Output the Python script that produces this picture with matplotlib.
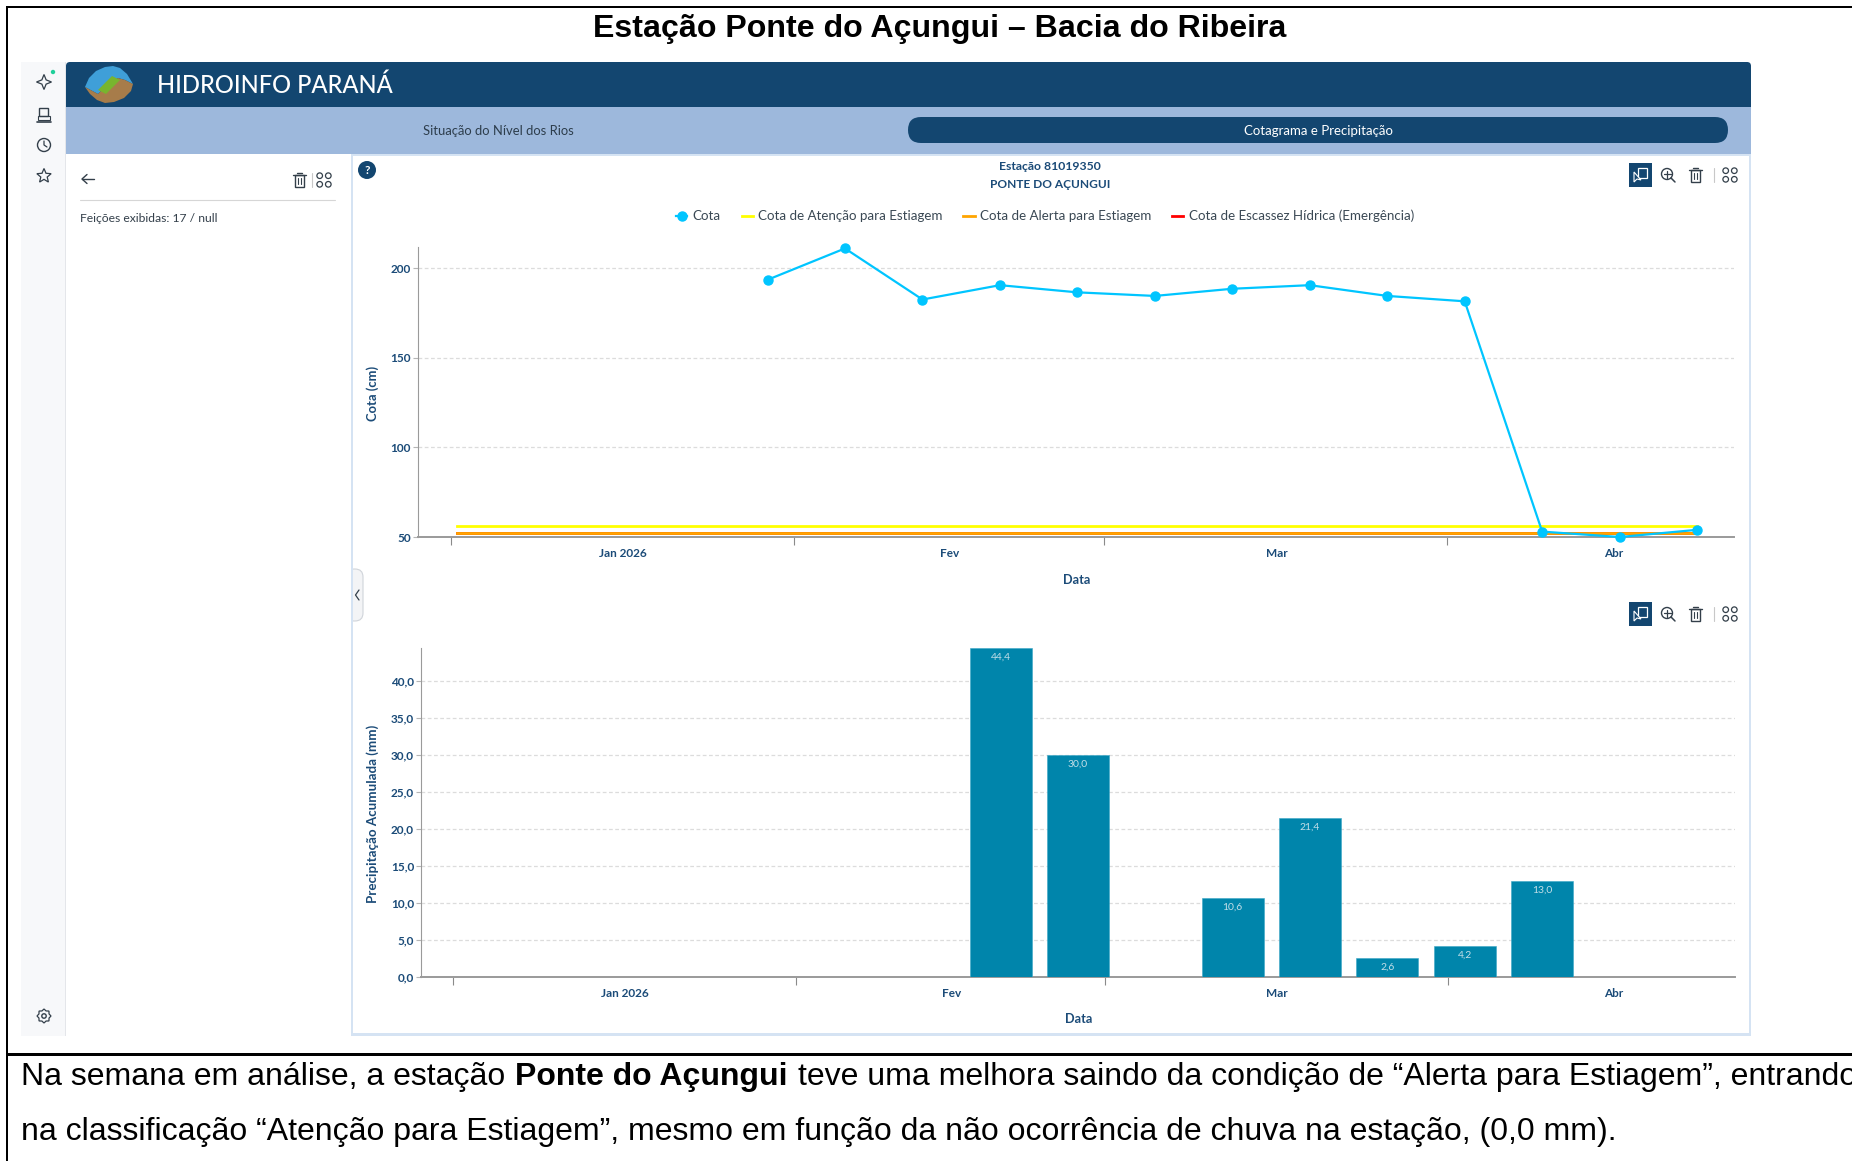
import matplotlib
matplotlib.use('Agg')
import matplotlib.pyplot as plt
import matplotlib.dates as mdates
from matplotlib.patches import Rectangle, Circle, FancyBboxPatch, Polygon
import numpy as np

# dados
cota_datas = ['2026-01-29T14', '2026-02-05T14', '2026-02-12T14', '2026-02-19T14', '2026-02-26T14',
              '2026-03-05T14', '2026-03-12T14', '2026-03-19T14', '2026-03-26T14', '2026-04-02T14',
              '2026-04-09T14', '2026-04-16T14', '2026-04-23T14']
cota = [193.5, 211, 182.5, 190.5, 186.5, 184.5, 188.5, 190.5, 184.5, 181.5, 53, 50, 54]
limite_datas = ['2026-01-01T12', '2026-04-23T14']
atencao = [56, 56]
alerta = [52, 52]
escassez = [52, 52]

chuva_datas = ['2026-02-19T13', '2026-02-26T13', '2026-03-12T13', '2026-03-19T13',
               '2026-03-26T13', '2026-04-02T13', '2026-04-09T13']
chuva = [44.4, 30.0, 10.6, 21.4, 2.6, 4.2, 13.0]

meses_ticks = ['2026-01-01', '2026-02-01', '2026-03-01', '2026-04-01']
meses_pos = ['2026-01-16T12', '2026-02-15T02', '2026-03-16T14', '2026-04-16T00']
meses_nomes = ['Jan 2026', 'Fev', 'Mar', 'Abr']

cota_ticks = [50, 100, 150, 200]
chuva_ticks = [0, 5, 10, 15, 20, 25, 30, 35, 40]

AZUL = '#134670'
TEXTO = '#1b4b78'
CINZA = '#333f4a'
plt.rcParams['font.family'] = ['Lato', 'DejaVu Sans']

fig = plt.figure(figsize=(18.52, 11.61), dpi=100)
W, H = 1852, 1161

# camada de fundo em pixels
ui = fig.add_axes([0, 0, 1, 1], zorder=0)
ui.set_xlim(0, W)
ui.set_ylim(H, 0)
ui.axis('off')


def rect(x0, y0, x1, y1, cor, **kw):
    ui.add_patch(Rectangle((x0, y0), x1 - x0, y1 - y0, facecolor=cor, edgecolor='none', **kw))


def linha(xs, ys, cor=CINZA, lw=1.0):
    ui.plot(xs, ys, color=cor, lw=lw, solid_capstyle='round')


def circulo(x, y, r, fc='none', ec=CINZA, lw=1.0):
    ui.add_patch(Circle((x, y), r, facecolor=fc, edgecolor=ec, lw=lw))


def lixeira(x, y, cor=CINZA):
    ui.add_patch(Rectangle((x - 4.5, y - 5), 9, 12, facecolor='none', edgecolor=cor, lw=1.0))
    linha([x - 6.5, x + 6.5], [y - 5, y - 5], cor, 1.0)
    linha([x - 2.5, x + 2.5], [y - 7.5, y - 7.5], cor, 1.0)
    linha([x - 1.5, x - 1.5], [y - 2, y + 4], cor, 0.8)
    linha([x + 1.5, x + 1.5], [y - 2, y + 4], cor, 0.8)


def grade(x, y):
    for dx in (-4.3, 4.3):
        for dy in (-4.3, 4.3):
            circulo(x + dx, y + dy, 2.8, lw=0.9)


def estrela(x, y, r, pontas=5, miolo=0.45):
    ang = np.pi / 2 + np.arange(2 * pontas) * np.pi / pontas
    raio = np.array([r, r * miolo] * pontas)
    pts = np.c_[x + raio * np.cos(ang), y - raio * np.sin(ang)]
    ui.add_patch(Polygon(pts, closed=True, facecolor='none', edgecolor=CINZA, lw=0.9))


def barra_ferramentas(y):
    rect(1629, y - 12, 1652, y + 12, AZUL)
    ui.add_patch(Rectangle((1638, y - 7), 9, 10, facecolor='none', edgecolor='white', lw=0.9))
    ui.add_patch(Polygon([(1634, y - 3), (1634, y + 7), (1637, y + 4), (1641, y + 5)], facecolor=AZUL, edgecolor='white', lw=0.8))
    circulo(1667, y - 1, 5.5, lw=1.0)
    linha([1663.5, 1670.5], [y - 1, y - 1], CINZA, 0.9)
    linha([1667, 1667], [y - 4.5, y + 2.5], CINZA, 0.9)
    linha([1671, 1675], [y + 3, y + 7], CINZA, 1.1)
    lixeira(1695, y)
    linha([1714, 1714], [y - 7, y + 7], '#c8c8c8', 0.8)
    grade(1730, y)


# moldura da tabela
rect(5.5, 6, W, 8, 'black')
rect(5.5, 6, 7.5, H, 'black')
rect(5.5, 1053, W, 1056, 'black')

# barra lateral, cabecalho e abas
rect(21, 62, 65, 1036, '#f7f8fa')
rect(65, 62, 66, 1036, '#e4e6ea')
ui.add_patch(FancyBboxPatch((66, 62), 1685, 45, boxstyle='round,pad=0,rounding_size=4', facecolor=AZUL, edgecolor='none'))
rect(66, 100, 80, 107, AZUL)
rect(1740, 100, 1751, 107, AZUL)
rect(66, 107, 1751, 154, '#9db8dc')
ui.add_patch(FancyBboxPatch((908, 117), 820, 26, boxstyle='round,pad=0,rounding_size=13', facecolor=AZUL, edgecolor='none'))
rect(351, 154, 1751, 1036, '#d5e3f3')
rect(353, 156, 1749, 1033, 'white')
rect(66, 154, 350, 1036, 'white')

# logotipo
ui.add_patch(Polygon([(85, 87), (89, 78), (96, 71), (105, 67), (113, 66), (120, 68), (127, 74), (133, 84), (125, 80),
                      (118, 78), (108, 84), (98, 94)], facecolor='#3f9fd8', edgecolor='none'))
ui.add_patch(Polygon([(85, 87), (98, 94), (108, 84), (118, 78), (125, 80), (133, 84), (131, 91), (124, 98), (114, 102),
                      (105, 103), (97, 100), (90, 94)], facecolor='#a77c4a', edgecolor='none'))
ui.add_patch(Polygon([(98, 90), (112, 76), (120, 80), (106, 94)], facecolor='#78b52e', edgecolor='none'))
ui.text(157, 85, 'HIDROINFO PARANÁ', color='white', fontsize=17, fontweight='medium', va='center', ha='left')
ui.text(498, 131, 'Situação do Nível dos Rios', color='#2d3d4c', fontsize=9.4, va='center', ha='center')
ui.text(1318, 131, 'Cotagrama e Precipitação', color='white', fontsize=9.5, va='center', ha='center')

# icones da barra lateral
estrela(44, 82, 7.5, 4, 0.4)
circulo(53, 72, 2.2, fc='#1fcf9a', ec='none')
ui.add_patch(Rectangle((39, 108), 9, 8, facecolor='none', edgecolor=CINZA, lw=1.0))
ui.add_patch(Rectangle((38, 116), 12, 3.5, facecolor='none', edgecolor=CINZA, lw=0.8))
linha([37, 51], [122, 122], CINZA, 1.2)
circulo(44, 145, 6.5)
linha([44, 44, 47], [141, 145, 147], CINZA, 0.9)
estrela(44, 176, 7.5)
estrela(44, 1016, 7, 8, 0.78)
circulo(44, 1016, 2.2)

# painel esquerdo
linha([82, 94], [179, 179], CINZA, 1.0)
linha([87, 82, 87], [174.5, 179, 183.5], CINZA, 1.0)
lixeira(299, 180)
linha([312, 312], [173, 187], '#c8c8c8', 0.8)
grade(324, 180)
linha([80, 335], [200, 200], '#d6d6d6', 0.8)
ui.text(80, 218, 'Feições exibidas: 17 / null', color=CINZA, fontsize=8.7, va='center', ha='left')

# cabecalho dos graficos
circulo(367, 170, 9, fc=AZUL, ec='none')
ui.text(367, 170, '?', color='white', fontsize=8.5, fontweight='bold', va='center', ha='center')
ui.text(1050, 167, 'Estação 81019350', color=TEXTO, fontsize=8.8, fontweight='bold', va='center', ha='center')
ui.text(1050, 184, 'PONTE DO AÇUNGUI', color=TEXTO, fontsize=8.6, fontweight='bold', va='center', ha='center')
barra_ferramentas(175)
barra_ferramentas(614)

# alca de recolher
ui.add_patch(FancyBboxPatch((346, 569), 17, 52, boxstyle='round,pad=0,rounding_size=8', facecolor='#f3f4f6', edgecolor='#d0d4da', lw=0.8))
rect(344, 565, 351, 625, 'white')
rect(351, 565, 353, 625, '#d5e3f3')
linha([359, 355.5, 359], [590, 595, 600], CINZA, 0.9)


def eixos(x0, y0, x1, y1):
    ax = fig.add_axes([x0 / W, 1 - y1 / H, (x1 - x0) / W, (y1 - y0) / H], zorder=2)
    ax.patch.set_alpha(0)
    for lado in ('top', 'right'):
        ax.spines[lado].set_visible(False)
    ax.spines['left'].set_color('#9a9a9a')
    ax.spines['bottom'].set_color('#9a9a9a')
    ax.spines['bottom'].set_linewidth(1.4)
    ax.grid(axis='y', color='#dcdcdc', ls=(0, (3, 2)), lw=0.9)
    ax.set_axisbelow(True)
    ax.xaxis_date()
    ax.set_xticks(mdates.date2num(np.array(meses_ticks, dtype='datetime64[h]')))
    ax.set_xticklabels([])
    ax.set_xticks(mdates.date2num(np.array(meses_pos, dtype='datetime64[h]')), labels=meses_nomes, minor=True)
    ax.tick_params(axis='x', which='major', length=6, color='#8a8a8a', width=0.8)
    ax.tick_params(axis='x', which='minor', length=0, pad=8, labelsize=8.5, labelcolor=TEXTO)
    ax.tick_params(axis='y', length=3.5, color='#b5b5b5', width=0.8, labelsize=8.5, labelcolor=TEXTO, pad=1.5)
    for t in ax.get_xminorticklabels() + ax.get_yticklabels():
        t.set_fontweight('bold')
    return ax


def datas(lista):
    return mdates.date2num(np.array(lista, dtype='datetime64[h]'))


# cotagrama
ax1 = eixos(418, 247, 1734, 537)
l1, = ax1.plot(datas(cota_datas), cota, color='#00c5ff', lw=1.6, marker='o', ms=6.5, clip_on=False, zorder=5, label='Cota')
l4, = ax1.plot(datas(limite_datas), escassez, color='#ff0000', lw=2, zorder=3, label='Cota de Escassez Hídrica (Emergência)')
l2, = ax1.plot(datas(limite_datas), atencao, color='#ffff00', lw=2, zorder=4, label='Cota de Atenção para Estiagem')
l3, = ax1.plot(datas(limite_datas), alerta, color='#ffa500', lw=2, zorder=4, label='Cota de Alerta para Estiagem')
ax1.set_xlim(mdates.date2num(np.datetime64('2025-12-29T00')), mdates.date2num(np.datetime64('2026-04-26T22')))
ax1.set_ylim(50, 211.8)
ax1.set_yticks(cota_ticks)
for t in ax1.get_yticklabels():
    t.set_fontweight('bold')

# precipitacao
ax2 = eixos(421, 648, 1735, 977)
barras = ax2.bar(datas(chuva_datas), chuva, width=5.6, color='#0085ab', edgecolor='#3aa7c6', lw=0.4, zorder=3)
for b, v in zip(barras, chuva):
    ax2.annotate(f'{v:.1f}'.replace('.', ','), (b.get_x() + b.get_width() / 2, v), xytext=(0, -6.5),
                 textcoords='offset points', ha='center', va='center', color='#c3dfe8', fontsize=7.5, zorder=6)
ax2.set_xlim(mdates.date2num(np.datetime64('2025-12-29T02')), mdates.date2num(np.datetime64('2026-04-27T00')))
ax2.set_ylim(0, 44.4)
ax2.set_yticks(chuva_ticks)
ax2.set_yticklabels([f'{v:.1f}'.replace('.', ',') for v in chuva_ticks], fontweight='bold')

# legenda
leg = fig.legend(handles=[l1, l2, l3, l4], loc='center', bbox_to_anchor=(1045 / W, 1 - 216 / H), ncol=4, frameon=False,
                 fontsize=9.6, handlelength=0.85, handletextpad=0.4, columnspacing=1.55, labelcolor='#3a4854')
leg.get_lines()[0].set_markersize(6.5)

# rotulos dos eixos em pixels
ui.text(373, 393, 'Cota (cm)', color=TEXTO, fontsize=9.4, fontweight='bold', rotation=90, va='center', ha='center')
ui.text(373, 814, 'Precipitação Acumulada (mm)', color=TEXTO, fontsize=9.6, fontweight='bold', rotation=90, va='center', ha='center')
ui.text(1077, 580, 'Data', color=TEXTO, fontsize=9.2, fontweight='bold', va='center', ha='center')
ui.text(1079, 1019, 'Data', color=TEXTO, fontsize=9.2, fontweight='bold', va='center', ha='center')

# titulo e texto do relatorio
ARIAL = ['Liberation Sans', 'DejaVu Sans']
ui.text(940, 29, 'Estação Ponte do Açungui – Bacia do Ribeira', family=ARIAL, fontsize=23.1, fontweight='bold',
        color='black', va='center', ha='center')

rend = fig.canvas.get_renderer()
trechos = [('Na semana em análise, a estação', 'normal'), ('Ponte do Açungui', 'bold'),
           ('teve uma melhora saindo da condição de “Alerta para Estiagem”, entrando', 'normal')]
x = 21
for txt, peso in trechos:
    t = ui.text(x, 1077, txt, family=ARIAL, fontsize=23, fontweight=peso, color='black', va='center', ha='left')
    x = x + t.get_window_extent(rend).width + 10
ui.text(21, 1132, 'na classificação “Atenção para Estiagem”, mesmo em função da não ocorrência de chuva na estação, (0,0 mm).',
        family=ARIAL, fontsize=23, color='black', va='center', ha='left')

fig.savefig('out.png', dpi=100)
